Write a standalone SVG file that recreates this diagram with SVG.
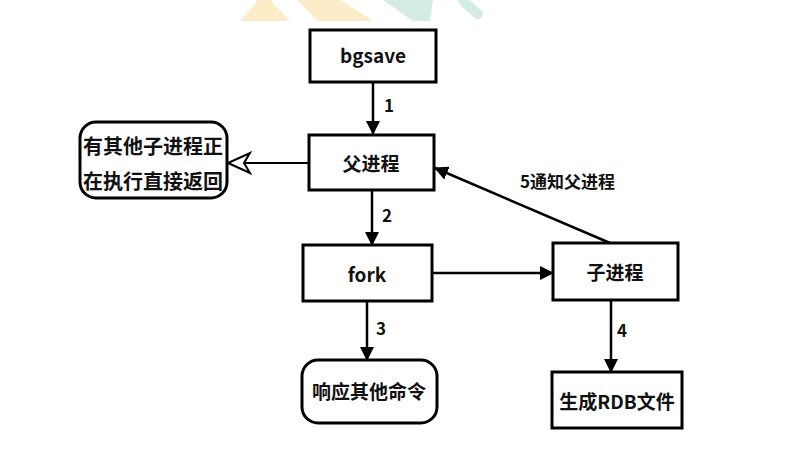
<svg xmlns="http://www.w3.org/2000/svg" width="812" height="473" viewBox="0 0 812 473">
  <defs>
    <marker id="arrow" viewBox="0 0 14 14" refX="13" refY="7" markerWidth="14" markerHeight="14" markerUnits="userSpaceOnUse" orient="auto">
      <path d="M0,0 L14,7 L0,14 Z" fill="#000"/>
    </marker>
    <marker id="hollow" viewBox="0 0 26 24" refX="24" refY="12" markerWidth="26" markerHeight="24" markerUnits="userSpaceOnUse" orient="auto">
      <path d="M2,2 L24,12 L2,22 L8,12 Z" fill="#fff" stroke="#000" stroke-width="2" stroke-linejoin="miter"/>
    </marker>
    <style>
      .box { fill: #fff; stroke: #000; stroke-width: 3; }
      .edge { fill: none; stroke: #000; stroke-width: 2.5; }
      .t { font-family: "Noto Sans CJK SC", "Liberation Sans", sans-serif; font-weight: bold; font-size: 19px; fill: #111; text-anchor: middle; dominant-baseline: central; }
      .wide { font-size: 20px; }
      .lbl { font-family: "Noto Sans CJK SC", "Liberation Sans", sans-serif; font-weight: bold; font-size: 17px; fill: #111; dominant-baseline: central; }
    </style>
  </defs>

  <rect width="812" height="473" fill="#fff"/>

  <!-- decorative stripes along the top edge -->
  <g id="decor">
    <polygon points="240,21 290,21 270,0 258,0" fill="#fdecc8"/>
    <polygon points="297,0 340,0 373,21 318,21" fill="#fdecc8"/>
    <polygon points="383,0 433,0 430,21 413,21" fill="#d3ece6"/>
    <path d="M463,0 Q472,10 478,14" stroke="#d3ece6" stroke-width="10" stroke-linecap="round" fill="none"/>
  </g>

  <!-- connectors -->
  <g id="connectors">
    <line class="edge" x1="373" y1="82" x2="373" y2="134" marker-end="url(#arrow)"/>
    <line class="edge" x1="372" y1="190" x2="372" y2="245" marker-end="url(#arrow)"/>
    <line class="edge" x1="432" y1="273" x2="553" y2="273" marker-end="url(#arrow)"/>
    <line class="edge" x1="367" y1="301" x2="367" y2="360" marker-end="url(#arrow)"/>
    <line class="edge" x1="611" y1="300" x2="611" y2="372" marker-end="url(#arrow)"/>
    <line class="edge" x1="610" y1="243" x2="435" y2="168" marker-end="url(#arrow)"/>
    <line x1="309" y1="163" x2="228" y2="163" stroke="#000" stroke-width="2" marker-end="url(#hollow)"/>
    <text class="lbl" x="384" y="104">1</text>
    <text class="lbl" x="382" y="214">2</text>
    <text class="lbl" x="376" y="327">3</text>
    <text class="lbl" x="617" y="329">4</text>
    <text class="lbl" x="520" y="180">5通知父进程</text>
  </g>

  <g id="bgsave">
    <rect class="box" x="310" y="30" width="126" height="52"/>
    <text class="t" x="373" y="54">bgsave</text>
  </g>

  <g id="parent">
    <rect class="box" x="309" y="135" width="125" height="55"/>
    <text class="t" x="371" y="162">父进程</text>
  </g>

  <g id="busy">
    <rect class="box" x="80" y="122" width="147" height="76" rx="16" ry="16"/>
    <text class="t wide" x="153" y="145">有其他子进程正</text>
    <text class="t wide" x="153" y="180">在执行直接返回</text>
  </g>

  <g id="fork">
    <rect class="box" x="303" y="245" width="129" height="56"/>
    <text class="t" x="367" y="273">fork</text>
  </g>

  <g id="child">
    <rect class="box" x="553" y="243" width="125" height="57"/>
    <text class="t" x="615" y="271">子进程</text>
  </g>

  <g id="respond">
    <rect class="box" x="302" y="360" width="135" height="63" rx="16" ry="16"/>
    <text class="t" x="369" y="390">响应其他命令</text>
  </g>

  <g id="rdb">
    <rect class="box" x="552" y="372" width="130" height="56"/>
    <text class="t" x="617" y="400">生成RDB文件</text>
  </g>
</svg>
